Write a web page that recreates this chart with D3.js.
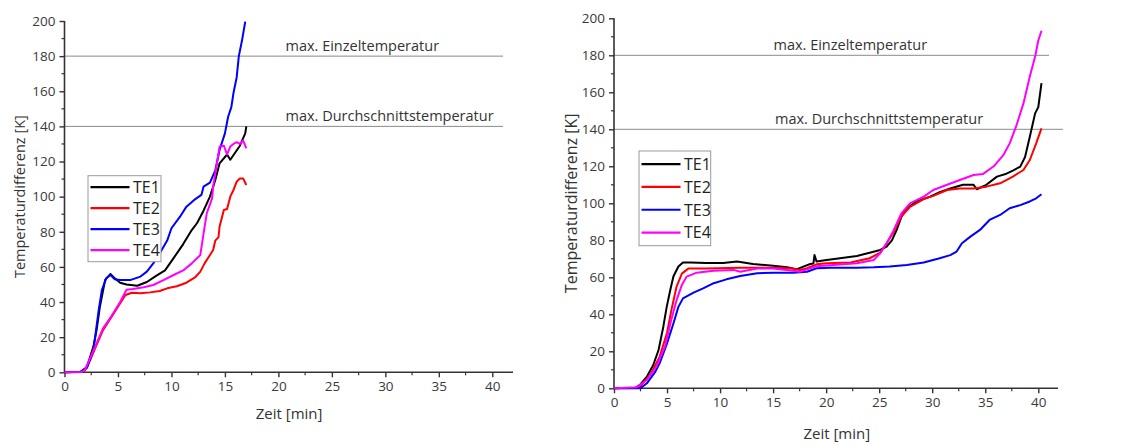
<!DOCTYPE html>
<html>
<head>
<meta charset="utf-8">
<script src="https://cdn.jsdelivr.net/npm/d3@7/dist/d3.min.js"></script>
<style>
  html, body { margin: 0; padding: 0; background: #fff; }
  svg { display: block; font-family: "Open Sans", "Noto Sans", sans-serif; }
  .tick text { fill: #3a3a3a; }
</style>
</head>
<body>
<svg id="chart" width="1123" height="446"></svg>
<script>
// Temperature rise curves [time in min, temperature difference in K]
// Test 1 (left panel)
const leftTE1 = [[0,0],[1.5,0.3],[2.1,3],[2.7,14.6],[3.0,24],[3.3,37],[3.8,52.6],[4.3,56],[4.7,53.5],[5.2,51],[5.8,50],[6.8,49.3],[7.7,51.4],[8.6,55],[9.4,58],[10.2,65],[11.1,73],[11.9,81],[12.4,85],[13.0,92],[13.6,100],[14.1,109.5],[14.5,119],[15.2,124],[15.5,121],[15.95,125],[16.4,129],[16.9,136],[17.0,140]];
const leftTE2 = [[0,0],[1.6,0.2],[1.9,1],[2.4,7],[3.0,15.6],[3.6,24],[4.3,30.7],[5.0,37.4],[5.7,44],[6.3,45.3],[7.1,45],[8.0,45.5],[8.9,46.3],[9.6,47.8],[10.5,49],[11.4,51],[12.2,54],[12.7,57.3],[13.1,62],[13.6,66.8],[13.9,69.6],[14.1,75],[14.4,77],[14.5,83],[14.9,92.4],[15.2,93],[15.5,100],[15.8,103.8],[16.1,108.5],[16.4,110.4],[16.7,110.4],[17.0,106.6]];
const leftTE3 = [[0,0],[1.5,0.3],[2.1,2.5],[2.7,12.5],[3.2,35.5],[3.5,47],[3.9,53.5],[4.3,55.4],[4.7,53],[5.2,52.6],[6.2,52.6],[7.1,54.5],[7.7,57.3],[8.3,62],[8.9,67.7],[9.6,75],[10.0,82],[10.8,88.6],[11.4,94.3],[12.1,98],[12.8,101],[13.0,105.7],[13.6,108],[14.1,115],[14.5,126.6],[15.0,136],[15.3,145.5],[15.6,151],[15.8,159],[16.1,168],[16.3,180],[16.6,189],[16.9,199.6]];
const leftTE4 = [[0,0],[1.6,0.2],[1.9,1.3],[2.4,8],[3.0,16.5],[3.6,25],[4.4,32],[5.2,40],[5.8,47],[6.4,47.4],[7.4,48.4],[8.3,49.7],[9.3,52.6],[10.2,55.4],[11.1,58],[11.9,62],[12.7,66.8],[13.0,79],[13.3,90.5],[13.8,99],[13.9,105.7],[14.2,117],[14.5,128.5],[14.9,129],[15.2,124],[15.5,128.5],[15.8,130],[16.1,131],[16.4,130],[16.7,132],[17.0,127.5]];

// Test 2 (right panel)
const rightTE1 = [[0,0],[2.0,0.2],[2.45,1.8],[3.1,6.3],[3.7,12.6],[4.2,20.7],[4.65,33.3],[4.97,44],[5.3,53],[5.6,60.4],[6.07,65.8],[6.5,68],[7.2,68],[8.7,67.7],[10.3,67.7],[11.6,68.5],[13.1,67.2],[15.0,66.3],[16.3,65.4],[17.2,64.3],[17.85,65.8],[18.5,67.2],[18.8,67.5],[18.9,72],[19.1,68.5],[20.05,69.4],[21.3,70.3],[22.9,71.5],[24.1,73.3],[25.1,74.8],[25.7,76.6],[26.2,80],[26.65,85.6],[27.1,92.8],[27.6,97.3],[28.5,101],[29.8,103.6],[30.7,106],[31.7,108],[32.9,110],[33.9,110],[34.2,107.6],[35.1,110],[36.1,114.4],[37.0,116],[37.6,117.7],[38.3,119.8],[38.75,125],[39.2,136],[39.7,148.6],[40.0,152],[40.3,164.9]];
const rightTE2 = [[0,0],[2.4,0.5],[3.4,7.2],[4.3,17],[5.0,30],[5.4,42],[5.9,55],[6.4,62],[7.0,64.7],[8.7,64.7],[11.9,65.2],[15.0,65.2],[16.9,64.7],[17.5,64],[18.2,64.9],[19.1,67],[20.05,67.6],[22.3,68],[24.1,70.3],[25.1,73.3],[25.7,78.4],[26.3,83.8],[27.1,93],[27.9,98],[29.2,102.3],[30.1,104],[31.4,107.2],[32.6,108],[33.9,108],[35.1,109],[36.4,110.8],[37.6,114.4],[38.6,118],[39.2,123.4],[39.8,132.4],[40.3,140.5]];
const rightTE3 = [[0,0],[2.5,0],[3.1,2.7],[3.9,9],[4.3,13.5],[5.0,24.3],[5.6,35],[6.07,44],[6.5,48.6],[7.5,51.7],[8.4,54],[9.4,56.8],[10.6,58.9],[11.9,60.7],[13.5,62.2],[15.0,62.5],[16.9,62.5],[18.2,63],[19.1,64.9],[20.4,65.2],[22.9,65.2],[24.5,65.4],[26.0,65.8],[27.6,66.7],[29.2,68],[30.7,70.3],[31.7,72],[32.3,73.9],[32.8,78.4],[33.6,82],[34.5,85.6],[35.4,91],[36.4,93.7],[37.3,97.3],[38.3,99],[39.2,101],[39.8,102.7],[40.3,104.9]];
const rightTE4 = [[0,0],[2.1,0.5],[3.1,4.5],[4.0,11.7],[4.8,22.5],[5.4,37],[5.9,47.7],[6.4,55.9],[6.85,60.4],[7.8,62.5],[9.4,63.6],[11.25,64],[11.9,63],[13.5,64.7],[15.0,64.7],[16.9,63.6],[17.5,63],[18.2,64.3],[19.1,66],[20.7,66.7],[22.9,67.6],[24.5,69.4],[25.1,73],[25.7,78.4],[26.3,84.7],[27.1,94.6],[27.9,100],[29.2,103.6],[30.1,107.2],[31.4,110],[32.6,112.6],[33.9,115.3],[34.8,115.9],[35.8,120],[36.7,126],[37.3,132.4],[37.9,141.4],[38.6,154],[39.2,168.5],[39.7,179.3],[40.0,188],[40.3,193.3]];

const seriesNames = ["TE1", "TE2", "TE3", "TE4"];
const seriesColors = ["#000000", "#ff0000", "#0000ff", "#ff00ff"];
const xTicks = [0, 5, 10, 15, 20, 25, 30, 35, 40];
const yTicks = [0, 20, 40, 60, 80, 100, 120, 140, 160, 180, 200];
const limitValues = [180, 140];
const limitLabels = ["max. Einzeltemperatur", "max. Durchschnittstemperatur"];
const xTitle = "Zeit [min]";
const yTitle = "Temperaturdifferenz [K]";

const panels = [
  {
    data: [leftTE1, leftTE2, leftTE3, leftTE4],
    x0: 64.5, x40: 492.3, xEnd: 513, y0: 372.3, y200: 21,
    limitEnd: [503, 503], limitTextX: [285.5, 285.5],
    legend: { x: 88, y: 175.7, w: 73, h: 86, row: 21 },
    xTitleY: 419, yTitleX: 25, yTitleSize: 14.5
  },
  {
    data: [rightTE1, rightTE2, rightTE3, rightTE4],
    x0: 614, x40: 1038.3, xEnd: 1058, y0: 388.3, y200: 18.3,
    limitEnd: [1049, 1063], limitTextX: [773.5, 775],
    legend: { x: 639, y: 151, w: 71.7, h: 94.7, row: 22.8 },
    xTitleY: 439, yTitleX: 577, yTitleSize: 16
  }
];

const svg = d3.select("#chart");
const axisColor = "#333";

panels.forEach(p => {
  const x = d3.scaleLinear().domain([0, 40]).range([p.x0, p.x40]);
  const y = d3.scaleLinear().domain([0, 200]).range([p.y0, p.y200]);
  const g = svg.append("g");

  // limit lines with their captions
  limitValues.forEach((v, i) => {
    g.append("line")
      .attr("x1", p.x0).attr("x2", p.limitEnd[i])
      .attr("y1", y(v)).attr("y2", y(v))
      .attr("stroke", "#8a8a8a").attr("stroke-width", 1);
    g.append("text")
      .attr("x", p.limitTextX[i]).attr("y", y(v) - 5)
      .attr("font-size", 14.5).attr("fill", "#333")
      .text(limitLabels[i]);
  });

  // minor ticks
  const xMinor = d3.range(2.5, 42.5, 5);
  const yMinor = d3.range(10, 200, 20);
  g.selectAll(".xminor").data(xMinor).join("line")
    .attr("x1", d => x(d)).attr("x2", d => x(d))
    .attr("y1", p.y0).attr("y2", p.y0 + 3)
    .attr("stroke", axisColor).attr("stroke-width", 1.2);
  g.selectAll(".yminor").data(yMinor).join("line")
    .attr("x1", p.x0 - 3).attr("x2", p.x0)
    .attr("y1", d => y(d)).attr("y2", d => y(d))
    .attr("stroke", axisColor).attr("stroke-width", 1.2);

  // axes
  const xAxis = d3.axisBottom(x).tickValues(xTicks).tickSize(5).tickPadding(4).tickSizeOuter(0);
  const yAxis = d3.axisLeft(y).tickValues(yTicks).tickSize(5).tickPadding(4).tickSizeOuter(0);
  const gx = g.append("g").attr("transform", `translate(0,${p.y0})`).call(xAxis);
  const gy = g.append("g").attr("transform", `translate(${p.x0},0)`).call(yAxis);
  [gx, gy].forEach(a => {
    a.select(".domain").remove();
    a.selectAll(".tick line").attr("stroke", axisColor).attr("stroke-width", 1.4);
    a.selectAll(".tick text").attr("font-size", 13.5).attr("font-family", "Open Sans, sans-serif");
  });
  g.append("line").attr("x1", p.x0).attr("x2", p.xEnd).attr("y1", p.y0).attr("y2", p.y0)
    .attr("stroke", axisColor).attr("stroke-width", 1.6);
  g.append("line").attr("x1", p.x0).attr("x2", p.x0).attr("y1", p.y0).attr("y2", p.y200)
    .attr("stroke", axisColor).attr("stroke-width", 1.6);

  // axis titles
  g.append("text")
    .attr("x", x(21)).attr("y", p.xTitleY)
    .attr("text-anchor", "middle").attr("font-size", 15).attr("fill", "#333")
    .text(xTitle);
  g.append("text")
    .attr("transform", `translate(${p.yTitleX},${y(100)}) rotate(-90)`)
    .attr("text-anchor", "middle").attr("font-size", p.yTitleSize).attr("fill", "#333")
    .text(yTitle);

  // curves
  const line = d3.line().x(d => x(d[0])).y(d => y(d[1]));
  p.data.forEach((s, i) => {
    g.append("path").datum(s)
      .attr("d", line)
      .attr("fill", "none")
      .attr("stroke", seriesColors[i])
      .attr("stroke-width", 2)
      .attr("stroke-linejoin", "round");
  });

  // legend
  const L = p.legend;
  const lg = g.append("g").attr("transform", `translate(${L.x},${L.y})`);
  lg.append("rect").attr("width", L.w).attr("height", L.h)
    .attr("fill", "#fff").attr("stroke", "#999").attr("stroke-width", 1);
  seriesNames.forEach((n, i) => {
    const cy = 11.5 + i * L.row + (L.h - 23 - 3 * L.row) / 2;
    lg.append("line").attr("x1", 2.5).attr("x2", 41.5).attr("y1", cy).attr("y2", cy)
      .attr("stroke", seriesColors[i]).attr("stroke-width", 2.2);
    lg.append("text").attr("x", 45).attr("y", cy).attr("dy", "0.36em")
      .attr("font-size", 16).attr("fill", "#222").text(n);
  });
});
</script>
</body>
</html>
